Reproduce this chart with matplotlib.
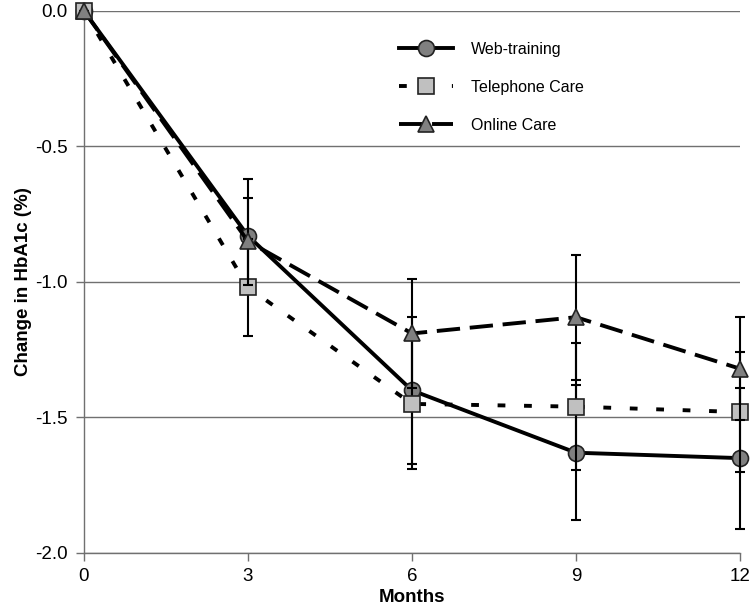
"""Change in HbA1c over months for three care groups."""

import matplotlib.pyplot as plt

plt.rcParams["font.family"] = ["Liberation Sans", "DejaVu Sans"]

months = [0, 3, 6, 9, 12]

web_training = [0.0, -0.83, -1.40, -1.63, -1.65]
web_training_err = [0.0, 0.21, 0.27, 0.25, 0.26]

telephone_care = [0.0, -1.02, -1.45, -1.46, -1.48]
telephone_care_err = [0.0, 0.18, 0.24, 0.235, 0.22]

online_care = [0.0, -0.85, -1.19, -1.13, -1.32]
online_care_err = [0.0, 0.16, 0.20, 0.23, 0.19]

fig = plt.figure(figsize=(7.52, 6.09), dpi=100)
ax = fig.add_axes([0.1117, 0.092, 0.8723, 0.89])

series = [
    ("Web-training", web_training, web_training_err,
     dict(linestyle="-", marker="o", markerfacecolor="#808080")),
    ("Telephone Care", telephone_care, telephone_care_err,
     dict(linestyle=(0, (2.0, 4.8)), marker="s", markerfacecolor="#c0c0c0")),
    ("Online Care", online_care, online_care_err,
     dict(linestyle=(0, (6, 2.5)), marker="^", markerfacecolor="#808080")),
]

for i, (label, vals, errs, style) in enumerate(series):
    ax.errorbar(months, vals, yerr=errs, fmt="none", ecolor="black",
                elinewidth=1.5, capsize=3.5, capthick=1.5, zorder=3 + i,
                clip_on=False)
    ax.plot(months, vals, color="black", linewidth=2.8, markersize=11.5,
            markeredgecolor="#222222", markeredgewidth=1.2, label=label,
            zorder=4 + i, clip_on=False, **style)

ax.set_xlim(0, 12)
ax.set_ylim(-2.0, 0.0)
ax.set_xticks(months)
ax.set_yticks([0.0, -0.5, -1.0, -1.5, -2.0])
ax.set_yticklabels(["0.0", "-0.5", "-1.0", "-1.5", "-2.0"])

ax.yaxis.grid(True, color="#707070", linewidth=1.0)
ax.set_axisbelow(True)
for side in ["top", "right"]:
    ax.spines[side].set_visible(False)
for side in ["left", "bottom"]:
    ax.spines[side].set_color("#707070")
    ax.spines[side].set_linewidth(1.0)
ax.tick_params(axis="both", colors="#707070", labelcolor="black",
               labelsize=13.5, length=6, width=1.0)
ax.tick_params(axis="y", pad=6)
ax.tick_params(axis="x", pad=5)

ax.set_xlabel("Months", fontsize=13.5, fontweight="bold", labelpad=3)
ax.set_ylabel("Change in HbA1c (%)", fontsize=13.5, fontweight="bold",
              labelpad=2)

ax.legend(loc="upper left", bbox_to_anchor=(0.458, 0.97), frameon=False,
          fontsize=11.5, handlelength=3.4, labelspacing=1.45,
          handletextpad=1.1)

fig.savefig("out.png", dpi=100)
